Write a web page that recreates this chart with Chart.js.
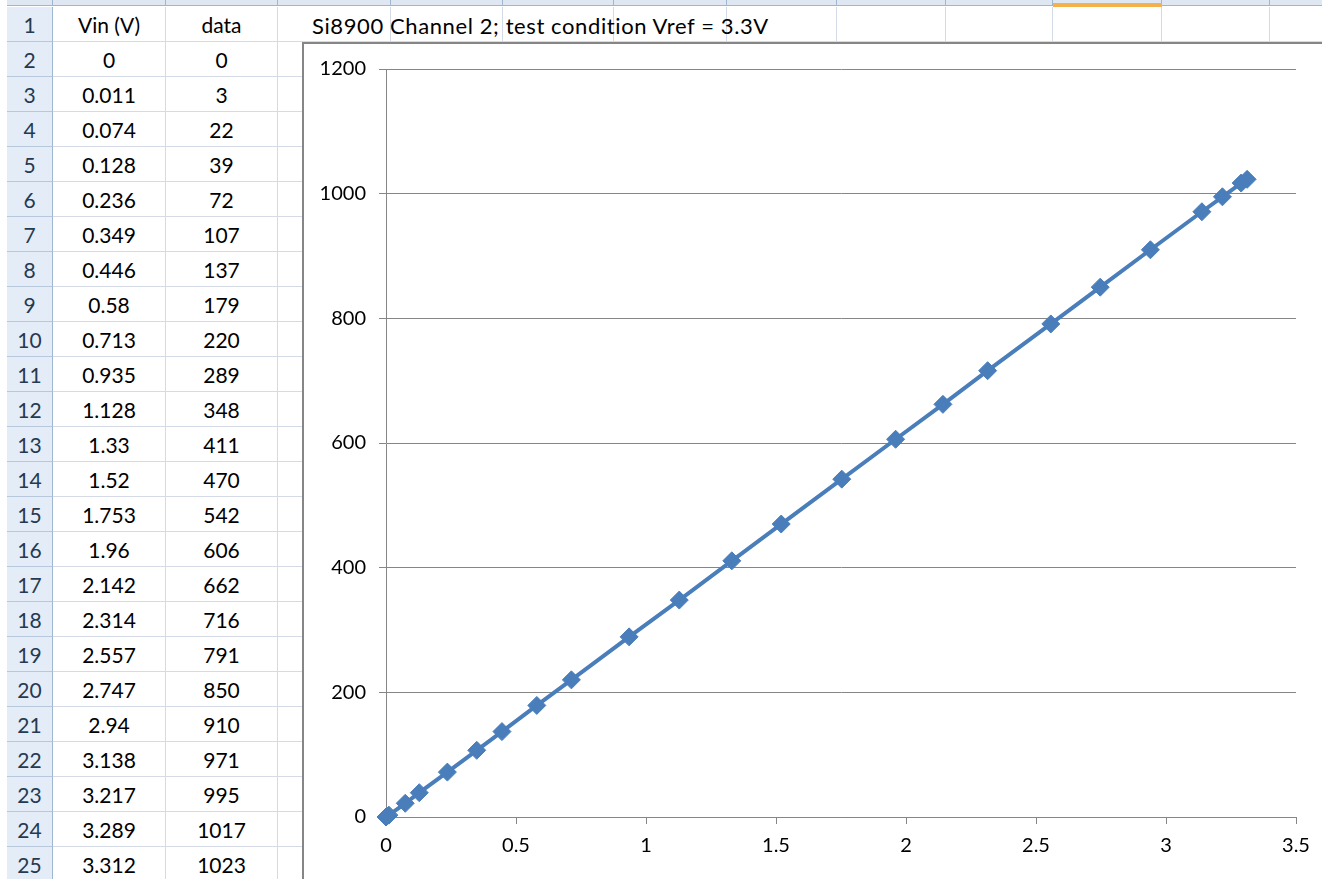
<!DOCTYPE html>
<html>
<head>
<meta charset="utf-8">
<script src="https://cdn.jsdelivr.net/npm/chart.js@4/dist/chart.umd.min.js"></script>
<style>
  body { margin: 0; background: #fff; font-family: Lato, sans-serif; overflow: hidden; }
  #sheet { position: absolute; left: 0; top: 0; width: 1322px; height: 879px; overflow: hidden; }
  .c { position: absolute; box-sizing: border-box; border-right: 1px solid #d4dbe7; border-bottom: 1px solid #d4dbe7;
       font-size: 21px; text-align: center; line-height: 36px; color: #000; white-space: nowrap; }
  .rh { background: #e4ecf7; color: #243a52; border-right: 1px solid #9eb6ce; border-bottom: 1px solid #b7c8dc; }
  .ch { position: absolute; top: 0; height: 6px; box-sizing: border-box; background: #dfe7f2;
        border-bottom: 1px solid #9eb6ce; border-right: 1px solid #9eb6ce; }
  #title { position: absolute; left: 312px; top: 8px; line-height: 35px; font-size: 22px; letter-spacing: 0.6px;
           color: #000; white-space: nowrap; }
  #box { position: absolute; left: 302px; top: 42px; width: 1040px; height: 850px; box-sizing: border-box;
         border: 2px solid #868686; background: #fff; }
  #wrap { position: absolute; left: 304px; top: 44px; width: 1018px; height: 835px; }
</style>
</head>
<body>
<div id="sheet"></div>
<div id="title">Si8900 Channel 2; test condition Vref = 3.3V</div>
<div id="box"></div>
<div id="wrap"><canvas id="adcChart"></canvas></div>
<script>
// measured values (columns A and B of the sheet)
const vin = [0, 0.011, 0.074, 0.128, 0.236, 0.349, 0.446, 0.58, 0.713, 0.935, 1.128, 1.33, 1.52,
             1.753, 1.96, 2.142, 2.314, 2.557, 2.747, 2.94, 3.138, 3.217, 3.289, 3.312];
const counts = [0, 3, 22, 39, 72, 107, 137, 179, 220, 289, 348, 411, 470,
                542, 606, 662, 716, 791, 850, 910, 971, 995, 1017, 1023];
const headers = ['Vin (V)', 'data'];
const xTicks = [0, 0.5, 1, 1.5, 2, 2.5, 3, 3.5];
const yTicks = [0, 200, 400, 600, 800, 1000, 1200];

// spreadsheet grid behind the chart
const sheet = document.getElementById('sheet');
const colEdges = [53, 166, 278, 391, 503, 614, 727, 837, 946, 1053, 1162, 1270, 1380];
const rowH = 35, top0 = 7;

function cell(x, y, w, h, cls, text) {
    const d = document.createElement('div');
    d.className = cls;
    d.style.left = x + 'px';
    d.style.top = y + 'px';
    d.style.width = w + 'px';
    d.style.height = h + 'px';
    if (text !== undefined) d.textContent = text;
    sheet.appendChild(d);
}

// column header strip (mostly scrolled off)
cell(7, 0, 46, 6, 'ch');
for (let i = 0; i < colEdges.length - 1; i++) {
    cell(colEdges[i], 0, colEdges[i + 1] - colEdges[i], 6, 'ch');
}
const hl = document.createElement('div');
hl.style.cssText = 'position:absolute;left:1053px;top:3px;width:109px;height:4px;background:#f4b04a';
sheet.appendChild(hl);

for (let r = 1; r <= 25; r++) {
    const y = top0 + (r - 1) * rowH;
    cell(7, y, 46, rowH, 'c rh', r);
    for (let i = 0; i < colEdges.length - 1; i++) {
        let txt = '';
        if (i < 2) {
            if (r === 1) txt = headers[i];
            else txt = i === 0 ? vin[r - 2] : counts[r - 2];
        }
        cell(colEdges[i], y, colEdges[i + 1] - colEdges[i], rowH, 'c', txt);
    }
}

const axisGrey = '#868686';
const tickFont = { family: 'Lato', size: 20 };

new Chart(document.getElementById('adcChart'), {
    type: 'scatter',
    data: {
        datasets: [{
            label: 'data',
            data: vin.map((v, i) => ({ x: v, y: counts[i] })),
            showLine: true,
            clip: false,
            borderColor: '#4a7ebb',
            backgroundColor: '#4a7ebb',
            borderWidth: 4,
            pointStyle: 'rectRot',
            pointRadius: 9,
            pointBorderWidth: 1,
            pointBorderColor: '#4a7ebb',
            pointBackgroundColor: '#4a7ebb'
        }]
    },
    options: {
        responsive: true,
        maintainAspectRatio: false,
        animation: false,
        layout: { padding: { left: 0, right: 26, top: 25, bottom: 0 } },
        plugins: {
            legend: { display: false },
            title: { display: false },
            tooltip: { enabled: false }
        },
        scales: {
            x: {
                type: 'linear',
                min: 0,
                max: 3.5,
                afterBuildTicks: s => { s.ticks = xTicks.map(v => ({ value: v })); },
                afterFit: s => { s.height = 62; },
                ticks: { font: tickFont, color: '#000', padding: 10, maxRotation: 0, callback: v => String(v) },
                grid: { drawOnChartArea: false, drawTicks: true, tickLength: 7, color: axisGrey },
                border: { display: true, color: axisGrey, width: 1 }
            },
            y: {
                min: 0,
                max: 1200,
                afterBuildTicks: s => { s.ticks = yTicks.map(v => ({ value: v })); },
                afterFit: s => { s.width = 82; },
                ticks: { font: tickFont, color: '#000', padding: 13, callback: v => String(v) },
                grid: { color: axisGrey, lineWidth: 1, drawTicks: true, tickLength: 7 },
                border: { display: true, color: axisGrey, width: 1 }
            }
        }
    }
});
</script>
</body>
</html>
